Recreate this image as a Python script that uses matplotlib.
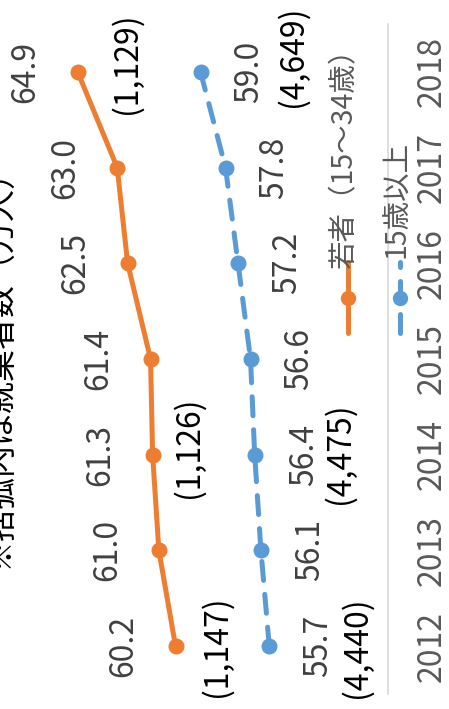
import matplotlib
matplotlib.use("Agg")
import matplotlib.pyplot as plt
from matplotlib.lines import Line2D

plt.rcParams['font.family'] = ['Noto Sans CJK JP', 'DejaVu Sans']

years = [2012, 2013, 2014, 2015, 2016, 2017, 2018]
young = [60.2, 61.0, 61.3, 61.4, 62.5, 63.0, 64.9]
over15 = [55.7, 56.1, 56.4, 56.6, 57.2, 57.8, 59.0]
young_counts = {2012: "(1,147)", 2014: "(1,126)", 2018: "(1,129)"}
over15_counts = {2012: "(4,440)", 2014: "(4,475)", 2018: "(4,649)"}
names = ["若者（15～34歳）", "15歳以上"]
note = "※括弧内は就業者数（万人）"

ORANGE = "#ED7D31"
BLUE = "#5B9BD5"
W, H = 449, 709
PT = 0.72  # points per pixel at dpi 100

fig = plt.figure(figsize=(W / 100, H / 100), dpi=100)
# chart is drawn turned a quarter turn: values run right-to-left, years bottom-to-top
ax = fig.add_axes([-28.6 / W, 15 / H, 416.6 / W, 670 / H])
ax.set_xlim(70, 50)
ax.set_ylim(2011.5, 2018.5)

ax.plot(young, years, color=ORANGE, lw=3.6, marker='o', ms=10.5,
        solid_capstyle='round')
ax.plot(over15, years, color=BLUE, lw=3.6, marker='o', ms=10.5,
        dashes=(3.8, 2.8), dash_capstyle='round')

for s in ['left', 'top', 'bottom']:
    ax.spines[s].set_visible(False)
ax.spines['right'].set_color('#D9D9D9')
ax.spines['right'].set_linewidth(1.2)
ax.set_xticks([])
ax.yaxis.tick_right()
ax.set_yticks(years)
ax.set_yticklabels([str(y) for y in years], rotation=90, va='center',
                   fontsize=23, color='#595959')
ax.tick_params(axis='y', length=0, pad=20)


def label(text, x, y, dx, dy, color):
    ax.annotate(text, (x, y), xytext=(dx * PT, -dy * PT), textcoords='offset points',
                rotation=90, ha='center', va='center', fontsize=23, color=color,
                annotation_clip=False)


for v, y in zip(young, years):
    label(f"{v:.1f}", v, y, -52, 0, '#404040')
for v, y in zip(over15, years):
    label(f"{v:.1f}", v, y, 49, 0, '#404040')

young_off = {2012: (41, 0), 2014: (36, -7), 2018: (49, -9)}
over15_off = {2012: (87, 1), 2014: (85, -2), 2018: (92, -16)}
for y, t in young_counts.items():
    v = young[years.index(y)]
    label(t, v, y, *young_off[y], '#000000')
for y, t in over15_counts.items():
    v = over15[years.index(y)]
    label(t, v, y, *over15_off[y], '#000000')


def fx(x, y):
    return x / W, 1 - y / H


# legend, drawn by hand in the turned layout
for (x, col, dash, tx, ty), name in zip(
        [(348, ORANGE, None, 344, 152), (400, BLUE, (3.8, 2.8), 397, 199)], names):
    (x0, y0), (x1, y1), (xm, ym) = fx(x, 333), fx(x, 262), fx(x, 297.5)
    ln = Line2D([x0, x1], [y0, y1], transform=fig.transFigure, color=col, lw=3.6,
                solid_capstyle='round', dash_capstyle='round')
    if dash:
        ln.set_dashes(dash)
    fig.add_artist(ln)
    fig.add_artist(Line2D([xm], [ym], transform=fig.transFigure, color=col,
                          marker='o', ms=10))
    fig.text(*fx(tx, ty), name, rotation=90, ha='center', va='center',
             fontsize=20.5, color='#595959')

fig.text(*fx(-2, 360), note, rotation=90, ha='center', va='center',
         fontsize=23, color='#000000')

fig.savefig("out.png", dpi=100)
